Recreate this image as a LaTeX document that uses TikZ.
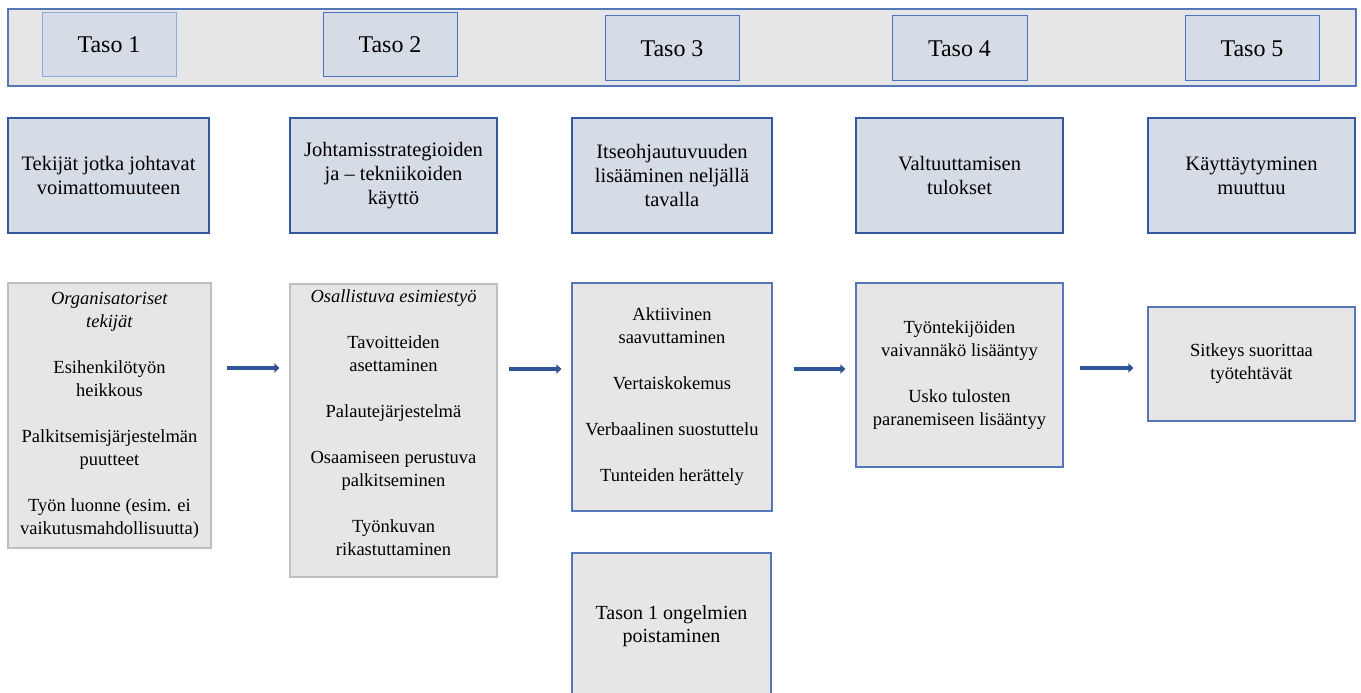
\documentclass[tikz,border=0pt]{standalone}
\usepackage{fontspec}
\setmainfont{Liberation Serif}
\usetikzlibrary{arrows.meta}
\definecolor{bandgray}{HTML}{E7E6E6}
\definecolor{lightblue}{HTML}{D6DCE5}
\definecolor{darkblue}{HTML}{34589C}
\definecolor{midblue}{HTML}{4A72C4}
\definecolor{paleblue}{HTML}{8FAADC}
\definecolor{boxblue}{HTML}{5677B5}
\definecolor{boxgray}{HTML}{BFBFBF}
\definecolor{arrowblue}{HTML}{2F5597}
\tikzset{
  band/.style={draw=boxblue, fill=bandgray, line width=1.2pt, inner sep=0pt},
  tasobox/.style={draw=midblue, fill=lightblue, line width=1pt, inner sep=0pt,
    minimum width=134pt, minimum height=64pt, font=\fontsize{24}{28}\selectfont},
  headbox/.style={draw=darkblue, fill=lightblue, line width=1.1pt, inner sep=0pt,
    minimum height=115pt, align=center, font=\fontsize{20.5}{24}\selectfont},
  graybox/.style={draw=boxgray, fill=bandgray, line width=1.1pt, inner sep=0pt,
    align=center, font=\fontsize{18.5}{23}\selectfont},
  bluebox/.style={draw=boxblue, fill=bandgray, line width=1.1pt, inner sep=0pt,
    align=center, font=\fontsize{18.5}{23}\selectfont},
  txt/.style={inner sep=0pt, align=center, font=\fontsize{18.5}{23}\selectfont},
  arr/.style={draw=arrowblue, line width=3.4pt, -{Triangle[length=5pt,width=9pt]}}
}
\begin{document}
\begin{tikzpicture}[x=1pt,y=-1pt]
\useasboundingbox[fill=white] (0,0) rectangle (1361,693);

% top band
\node[band, minimum width=1348pt, minimum height=77pt] (band) at (682,47.5) {};
\node[tasobox, draw=paleblue] (T1) at (109,45) {Taso 1};
\node[tasobox] (T2) at (390,45) {Taso 2};
\node[tasobox, minimum height=65pt] (T3) at (672,48.5) {Taso 3};
\node[tasobox, minimum width=135pt, minimum height=65pt] (T4) at (959.5,48.5) {Taso 4};
\node[tasobox, minimum height=65pt] (T5) at (1252,48.5) {Taso 5};

% second row
\node[headbox, minimum width=201pt] (R1) at (108.5,175.5) {Tekijät jotka johtavat\\voimattomuuteen};
\node[headbox, minimum width=207pt] (R2) at (393.5,175.5) {Johtamisstrategioiden\\ja – tekniikoiden\\käyttö};
\node[headbox, minimum width=200pt] (R3) at (672,175.5) {Itseohjautuvuuden\\lisääminen neljällä\\tavalla};
\node[headbox, minimum width=207pt] (R4) at (959.5,175.5) {Valtuuttamisen\\tulokset};
\node[headbox, minimum width=207pt] (R5) at (1251.5,175.5) {Käyttäytyminen\\muuttuu};

% third row
\node[graybox, minimum width=203pt, minimum height=265pt] (L1) at (109.5,415.5)
  {\textit{Organisatoriset}\\\textit{tekijät}\\[23pt]Esihenkilötyön\\heikkous\\[23pt]Palkitsemisjärjestelmän\\puutteet\\[23pt]Työn luonne (esim. ei\\vaikutusmahdollisuutta)};
\node[graybox, minimum width=207pt, minimum height=293pt] (L2) at (393.5,430.5) {};
\node[txt] (L2t) at (393.5,422.5)
  {\textit{Osallistuva esimiestyö}\\[23pt]Tavoitteiden\\asettaminen\\[23pt]Palautejärjestelmä\\[23pt]Osaamiseen perustuva\\palkitseminen\\[23pt]Työnkuvan\\rikastuttaminen};
\node[bluebox, minimum width=200pt, minimum height=228pt] (L3) at (672,397)
  {Aktiivinen\\saavuttaminen\\[23pt]Vertaiskokemus\\[23pt]Verbaalinen suostuttelu\\[23pt]Tunteiden herättely};
\node[bluebox, minimum width=199pt, minimum height=147pt, font=\fontsize{20}{23}\selectfont] (B) at (671.5,626.5)
  {Tason 1 ongelmien\\poistaminen};
\node[bluebox, minimum width=207pt, minimum height=184pt] (L4) at (959.5,375)
  {Työntekijöiden\\vaivannäkö lisääntyy\\[23pt]Usko tulosten\\paranemiseen lisääntyy};
\node[bluebox, minimum width=207pt, minimum height=114pt] (L5) at (1251.5,364)
  {Sitkeys suorittaa\\työtehtävät};

% arrows
\coordinate (ya) at (0,368);
\coordinate (yb) at (0,369);
\draw[arr] ([xshift=15pt]L1.east |- ya) -- ([xshift=-10pt]L2.west |- ya);
\draw[arr] ([xshift=11pt]L2.east |- yb) -- ([xshift=-10pt]L3.west |- yb);
\draw[arr] ([xshift=21pt]L3.east |- yb) -- ([xshift=-10pt]L4.west |- yb);
\draw[arr] ([xshift=16pt]L4.east |- ya) -- ([xshift=-14pt]L5.west |- ya);
\end{tikzpicture}
\end{document}
